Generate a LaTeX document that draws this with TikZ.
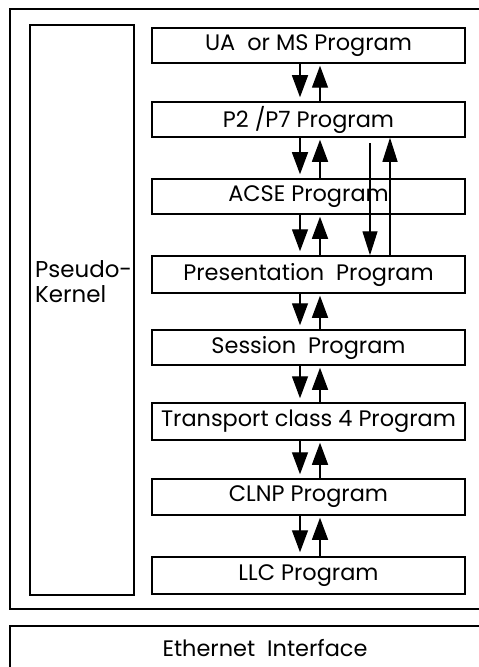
\documentclass[tikz,border=0pt]{standalone}
\usepackage{fontspec}
\setmainfont{Poppins}
\usetikzlibrary{arrows.meta}
\begin{document}
\begin{tikzpicture}[x=1bp,y=-1bp,
  frame/.style={draw,line width=1.5bp},
  txt/.style={font=\fontsize{22.5}{25}\selectfont},
  prog/.style={draw,line width=1.5bp,minimum width=313bp,inner sep=0pt,txt},
  arr/.style={line width=1.4bp,-{Triangle[width=16bp,length=22bp]}},
  longarr/.style={line width=1.2bp,-{Triangle[width=15bp,length=24bp]}}]
\useasboundingbox (0,0) rectangle (479,667);
\clip (0,0) rectangle (479,667);
% outer frame and ethernet interface
\draw[frame] (10,9) rectangle (520,609);
\draw[frame] (10,626) rectangle (520,720);
\node[txt] (eth) at (265,648) {Ethernet\ \ Interface};
% pseudo kernel
\node[frame,minimum width=104bp,minimum height=570bp,inner sep=0pt] (pk) at (82,310) {};
\node[anchor=west,align=left,inner sep=0pt,font=\fontsize{23}{25}\selectfont] (pkt) at (35,282) {Pseudo-\\Kernel};
% program boxes
\node[prog,minimum height=35bp] (ua) at (308.5,45.5) {UA\ \ or MS Program};
\node[prog,minimum height=35bp] (p2) at (308.5,119.5) {P2 /P7 Program};
\node[prog,minimum height=35bp] (acse) at (308.5,196.5) {ACSE Program};
\node[prog,minimum height=37bp] (pres) at (308.5,274.5) {Presentation\ \ Program};
\node[prog,minimum height=35bp] (sess) at (308.5,347.5) {Session\ \ Program};
\node[prog,minimum height=37bp] (tp4) at (308.5,421.5) {Transport class 4 Program};
\node[prog,minimum height=36bp] (clnp) at (308.5,497) {CLNP Program};
\node[prog,minimum height=37bp] (llc) at (308.5,575.5) {LLC Program};
% short arrow pairs
\foreach \a/\b in {ua/p2,p2/acse,acse/pres,pres/sess,sess/tp4,tp4/clnp,clnp/llc}{
  \draw[arr,shorten >=4bp] (\a.south -| 300,0) -- (\b.north -| 300,0);
  \draw[arr,shorten >=2bp] (\b.north -| 320,0) -- (\a.south -| 320,0);
}
% long arrows between P2/P7 and Presentation
\coordinate (ls) at (370,143);
\draw[longarr] (ls) -- (pres.north -| ls);
\draw[longarr] (pres.north -| 390,0) -- (p2.south -| 390,0);
\end{tikzpicture}
\end{document}
